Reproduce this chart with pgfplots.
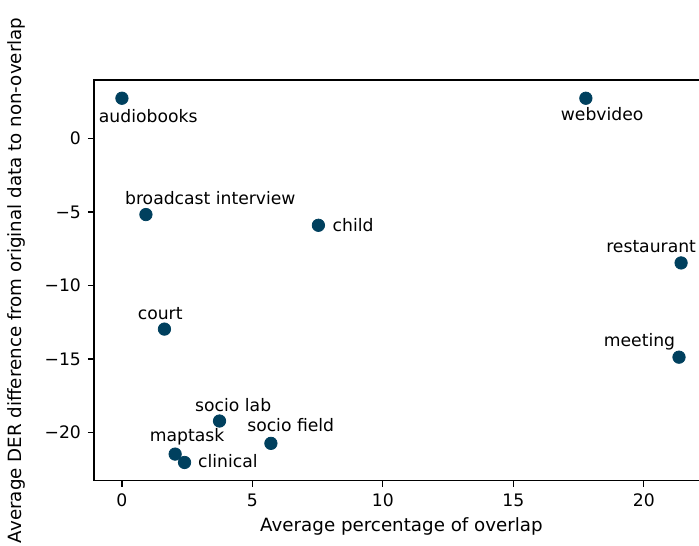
\documentclass[border=0pt]{standalone}
\usepackage{pgfplots}
\pgfplotsset{compat=1.18}
\usepackage{pgfplotstable}
\usepackage{fontspec}
\setmainfont{DejaVu Sans}
\definecolor{dotblue}{HTML}{00405E}

% overlap (%) vs. DER difference, one row per domain
\pgfplotstableread{
x      y
0.00   2.73
0.92  -5.18
7.53  -5.91
17.78  2.73
21.43 -8.47
21.35 -14.88
1.63  -12.97
3.74  -19.22
5.71  -20.74
2.04  -21.47
2.40  -22.04
}\overlapdata

\begin{document}
\begin{tikzpicture}[font=\fontsize{8.6}{10}\selectfont]
\useasboundingbox (0,0) rectangle (349.5pt,-272.5pt);
\clip (0,0) rectangle (349.5pt,-272.5pt);
\begin{axis}[
  at={(47pt,-240.35pt)}, anchor=south west,
  scale only axis, width=307.5pt, height=200.35pt,
  xmin=-1.07, xmax=22.5, ymin=-23.28, ymax=3.97,
  xtick={0,5,10,15,20}, xticklabels={0,5,10,15,20},
  ytick={-20,-15,-10,-5,0}, yticklabels={−20,−15,−10,−5,0},
  tick align=outside, tick pos=left, major tick length=3pt,
  axis line style={line width=0.6pt},
  every tick/.style={line width=0.6pt, black},
  xlabel={Average percentage of overlap},
  ylabel={Average DER difference from original data to non-overlap},
  label style={font=\fontsize{9.13}{11}\selectfont},
  xlabel style={at={(axis description cs:0.5,-0.1148)}, anchor=center},
  ylabel style={at={(axis description cs:-0.1265,0.5)}, anchor=center},
  clip=false,
]
\addplot[only marks, mark=*, mark size=3.1pt, mark options={draw=dotblue, fill=dotblue}]
  table[x=x, y=y] {\overlapdata};
\node[anchor=base, xshift=13.15pt, yshift=-12.15pt] at (axis cs:0.00,2.73) {audiobooks};
\node[anchor=base, xshift=32.2pt, yshift=5pt] at (axis cs:0.92,-5.18) {broadcast interview};
\node[anchor=base west, xshift=3.6pt, yshift=-3.3pt] at (axis cs:7.53,-5.91) {child};
\node[anchor=base, xshift=8.15pt, yshift=-11.35pt] at (axis cs:17.78,2.73) {webvideo};
\node[anchor=base, xshift=-15pt, yshift=5.3pt] at (axis cs:21.43,-8.47) {restaurant};
\node[anchor=base, xshift=-19.75pt, yshift=5.3pt] at (axis cs:21.35,-14.88) {meeting};
\node[anchor=base, xshift=-2.15pt, yshift=5pt] at (axis cs:1.63,-12.97) {court};
\node[anchor=base, xshift=6.85pt, yshift=5pt] at (axis cs:3.74,-19.22) {socio lab};
\node[anchor=base, xshift=9.9pt, yshift=6.15pt] at (axis cs:5.71,-20.74) {socio field};
\node[anchor=base, xshift=6pt, yshift=6.15pt] at (axis cs:2.04,-21.47) {maptask};
\node[anchor=base west, xshift=3.3pt, yshift=-2.5pt] at (axis cs:2.40,-22.04) {clinical};
\end{axis}
\end{tikzpicture}
\end{document}
